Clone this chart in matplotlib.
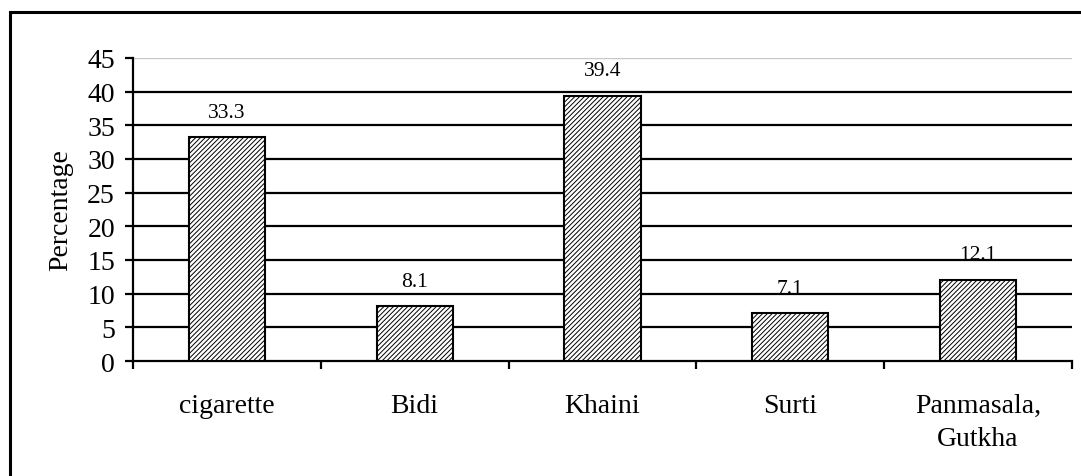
import matplotlib.pyplot as plt
from matplotlib.patches import Rectangle

plt.rcParams['font.family'] = ['Liberation Serif', 'DejaVu Serif']
plt.rcParams['hatch.linewidth'] = 0.7

categories = ['cigarette', 'Bidi', 'Khaini', 'Surti', 'Panmasala,\nGutkha']
percent = [33.3, 8.1, 39.4, 7.1, 12.1]
yticks = [0, 5, 10, 15, 20, 25, 30, 35, 40, 45]

fig = plt.figure(figsize=(10.81, 4.77), dpi=100)
ax = fig.add_axes([133/1081, 1 - 362/477, (1072 - 133)/1081, (362 - 59)/477])

# outer border of the chart area
fig.patches.append(Rectangle((10/1081, -0.1), 1.2, 1.1 - 13/477, transform=fig.transFigure,
                             fill=False, edgecolor='black', linewidth=2.2, zorder=10))

xpos = list(range(len(categories)))
bars = ax.bar(xpos, percent, width=0.405, color='white', edgecolor='black',
              hatch='///////', linewidth=1.5, zorder=3)

for x, v in zip(xpos, percent):
    ax.annotate(f'{v}', (x, v), xytext=(0, 11), textcoords='offset points',
                ha='center', va='bottom', fontsize=15.5)

# horizontal gridlines, top one drawn faint
for y in yticks[1:]:
    if y == 45:
        ax.axhline(y, color='#c8c8c8', linewidth=1, zorder=1)
    else:
        ax.axhline(y, color='black', linewidth=1.6, zorder=1)

ax.set_xlim(-0.5, len(categories) - 0.5)
ax.set_ylim(0, 45)
ax.set_yticks(yticks)
ax.tick_params(axis='y', labelsize=20, length=6, width=1.6, pad=7, direction='out')

ax.set_xticks([i - 0.5 for i in range(len(categories) + 1)])
ax.set_xticklabels([])
ax.set_xticks(xpos, minor=True)
ax.set_xticklabels(categories, minor=True, fontsize=20, linespacing=1.42)
ax.tick_params(axis='x', which='major', length=6, width=1.6, direction='out')
ax.tick_params(axis='x', which='minor', length=0, pad=23)

for s in ['top', 'right']:
    ax.spines[s].set_visible(False)
for s in ['left', 'bottom']:
    ax.spines[s].set_linewidth(1.6)

ax.set_ylabel('Percentage', fontsize=20, labelpad=10)

fig.savefig('out.png', dpi=100)
